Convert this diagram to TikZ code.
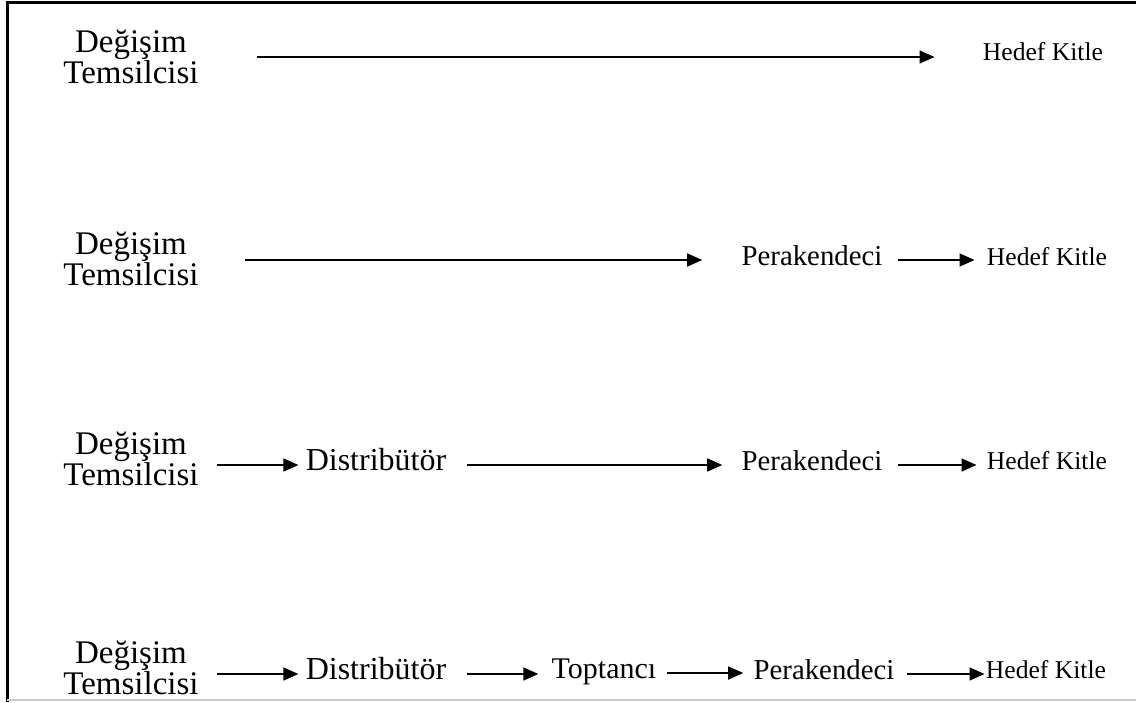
\documentclass[tikz,border=0pt]{standalone}
\usepackage{fontspec}
\setmainfont{Liberation Serif}
\usetikzlibrary{arrows.meta}
\begin{document}
\begin{tikzpicture}[x=0.5pt,y=-0.5pt]
        \tikzstyle{every node} = [inner sep=0pt,font=\fontsize{14.4}{16}\selectfont]
        \tikzstyle{stage} = [text height=1.5ex,text depth=.25ex]
        \tikzstyle{agent} = [align=center,font=\fontsize{16.5}{15.5}\selectfont]
        \tikzstyle{dist} = [stage,font=\fontsize{16}{16}\selectfont]
        \tikzstyle{target} = [stage,font=\fontsize{12.8}{14}\selectfont]
        \tikzstyle{arr} = [line width=0.75pt,-{Triangle[length=7.5pt,width=6.5pt]}]
            \useasboundingbox (0,0) rectangle (1136,702);
            % frame
            \draw[line width=1.5pt] (7,702) -- (7,2) -- (1136,2);
            \draw[black!20,line width=1pt] (7,700) -- (1136,700);

            \foreach\n/\y in {1/57,2/259,3/459,4/668}{
                \node[agent] (a\n) at (131,\y) {Değişim\\Temsilcisi};
            }

            % direct
            \node[target] (h1) at (1043,55) {Hedef Kitle};
            \draw[arr,shorten <=29pt,shorten >=24pt] (a1.east) -- (a1.east -| h1.west);

            % retailer
            \node[stage] (p2) at (812,260) {Perakendeci};
            \node[target] (h2) at (1047,260) {Hedef Kitle};
            \draw[arr,shorten <=23pt,shorten >=19.5pt] (a2.east |- p2) -- (p2.west);
            \draw[arr,shorten <=7.5pt,shorten >=6pt] (p2) -- (h2);

            % distributor
            \node[dist] (d3) at (376,465) {Distribütör};
            \node[stage] (p3) at (812,465) {Perakendeci};
            \node[target] (h3) at (1047,464) {Hedef Kitle};
            \draw[arr,shorten <=9pt,shorten >=3.5pt] (a3.east |- d3) -- (d3.west);
            \draw[arr,shorten <=10pt,shorten >=9.5pt] (d3) -- (p3);
            \draw[arr,shorten <=7.5pt,shorten >=5pt] (p3.east) -- (p3.east -| h3.west);

            % wholesaler
            \node[dist] (d4) at (376,674) {Distribütör};
            \node[stage,font=\fontsize{15}{16}\selectfont] (t4) at (604,673) {Toptancı};
            \node[stage] (p4) at (824,674) {Perakendeci};
            \node[target] (h4) at (1046,673) {Hedef Kitle};
            \draw[arr,shorten <=9pt,shorten >=3.5pt] (a4.east |- d4) -- (d4.west);
            \draw[arr,shorten <=10pt,shorten >=6.5pt] (d4.east) -- (d4.east -| t4.west);
            \draw[arr,shorten <=5pt,shorten >=5pt] (t4.east) -- (t4.east -| p4.west);
            \draw[arr,shorten <=6pt,shorten >=0.5pt] (p4.east) -- (p4.east -| h4.west);
\end{tikzpicture}
\end{document}
